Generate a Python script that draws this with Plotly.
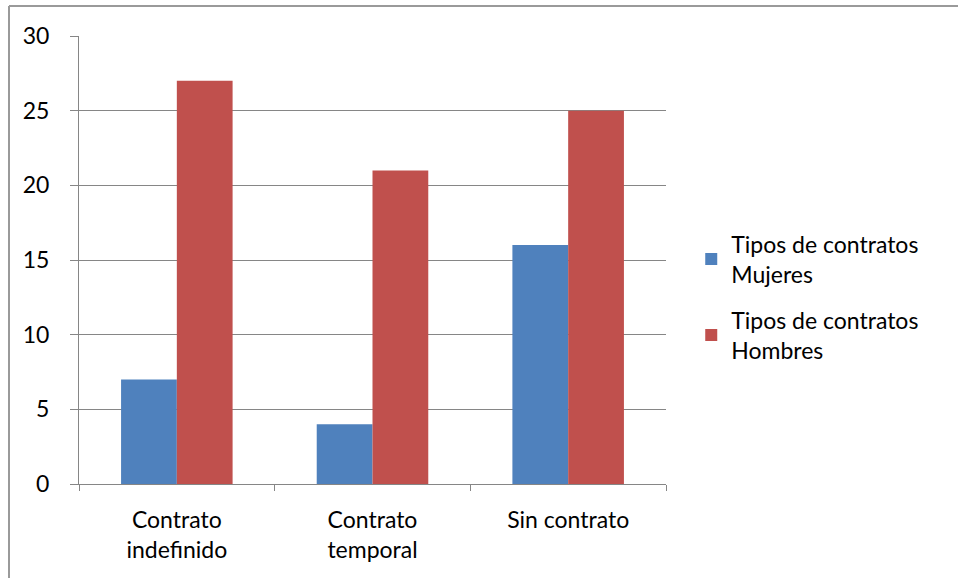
import plotly.graph_objects as go

categories = ["Contrato<br>indefinido", "Contrato<br>temporal", "Sin contrato"]
mujeres = [7, 4, 16]
hombres = [27, 21, 25]
series_names = ["Tipos de contratos<br>Mujeres", "Tipos de contratos<br>Hombres"]
y_ticks = [0, 5, 10, 15, 20, 25, 30]

FONT = "Lato"
GRID = "#868686"
FS = 23

fig = go.Figure()
fig.add_trace(go.Bar(x=categories, y=mujeres, name=series_names[0], legendgroup="m",
                     marker=dict(color="#4F81BD", line=dict(width=0))))
fig.add_trace(go.Bar(x=categories, y=hombres, name=series_names[1], legendgroup="h",
                     marker=dict(color="#C0504D", line=dict(width=0))))

fig.update_layout(
    width=958, height=578,
    margin=dict(l=79, r=292, t=36, b=94),
    paper_bgcolor="white", plot_bgcolor="white",
    barmode="group", bargap=0.43, bargroupgap=0,
    font=dict(family=FONT, size=FS, color="black"),
    legend=dict(x=1.043, xanchor="left", y=0.417, yanchor="middle",
                font=dict(size=FS), traceorder="grouped", tracegroupgap=13,
                itemwidth=30),
    showlegend=True,
)
fig.update_xaxes(
    showline=True, linecolor=GRID, linewidth=1,
    ticks="outside", ticklen=6, tickcolor=GRID, tickson="boundaries",
    showgrid=False, tickfont=dict(size=FS), ticklabelstandoff=15,
)
fig.update_yaxes(
    range=[0, 30], tickvals=y_ticks,
    showline=True, linecolor=GRID, linewidth=1,
    ticks="outside", ticklen=8, tickcolor=GRID,
    showgrid=True, gridcolor=GRID, gridwidth=1,
    zeroline=False, tickfont=dict(size=FS), ticklabelstandoff=16,
)
# outer chart border (top and left visible)
fig.add_shape(type="line", xref="paper", yref="paper",
              x0=(9 - 79) / 587, x1=1.6, y0=(484 - 6) / 448, y1=(484 - 6) / 448,
              line=dict(color="#9a9a9a", width=2))
fig.add_shape(type="line", xref="paper", yref="paper",
              x0=(9 - 79) / 587, x1=(9 - 79) / 587, y0=(484 - 6) / 448, y1=-0.3,
              line=dict(color="#9a9a9a", width=2))

fig.write_html("out.html")
